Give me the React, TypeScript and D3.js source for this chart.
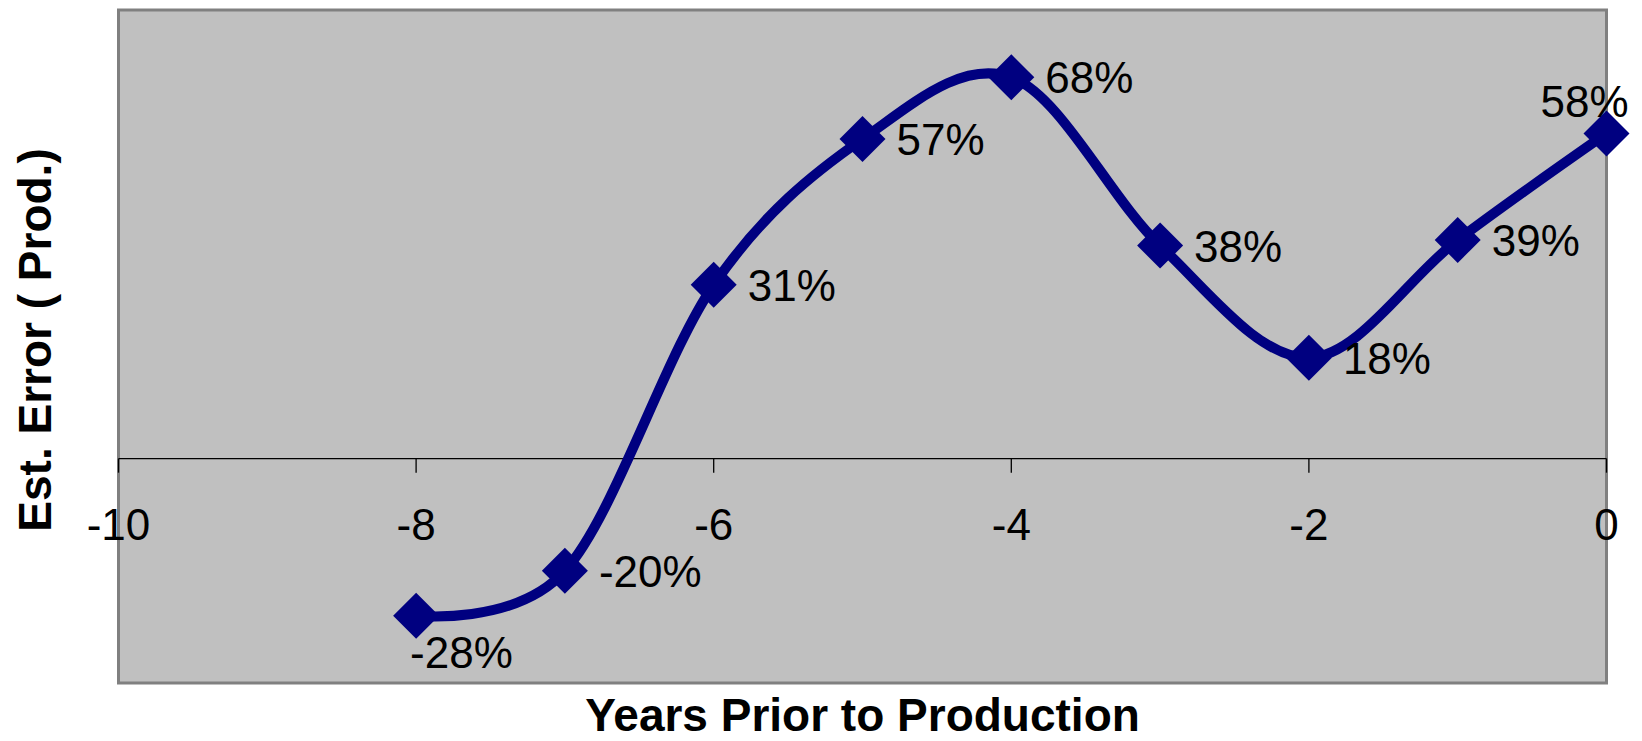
import React from "react";
import * as d3 from "d3";

// Years before production start and the estimate error at each year (%)
const years = [-8, -7, -6, -5, -4, -3, -2, -1, 0];
const errors = [-28, -20, 31, 57, 68, 38, 18, 39, 58];
// Where each value label sits relative to its marker
const labelPlacement = ["below", "right", "right", "right", "right", "right", "right", "right", "above"];
const xTicks = [-10, -8, -6, -4, -2, 0];
const xDomain = [-10, 0];
const yDomain = [-40, 80];

const W = 1642;
const H = 741;
const plot = { left: 118.5, right: 1606.5, top: 10, bottom: 683 };
const FONT = "'Liberation Sans', Arial, Helvetica, sans-serif";
const NAVY = "#000080";

export default function App() {
  const x = d3.scaleLinear().domain(xDomain).range([plot.left, plot.right]);
  const y = d3.scaleLinear().domain(yDomain).range([plot.bottom, plot.top]);

  const points = years.map((yr, i) => ({ yr, v: errors[i], place: labelPlacement[i] }));

  const line = d3
    .line<{ yr: number; v: number }>()
    .x((d) => x(d.yr))
    .y((d) => y(d.v))
    .curve(d3.curveCardinal.tension(0));

  const half = 23; // half-diagonal of the diamond markers
  const diamond = (cx: number, cy: number) =>
    `M${cx},${cy - half}L${cx + half},${cy}L${cx},${cy + half}L${cx - half},${cy}Z`;

  const y0 = y(0);

  return (
    <svg
      width={W}
      height={H}
      style={{ position: "absolute", left: 0, top: 0, background: "#fff" }}
      fontFamily={FONT}
    >
      {/* plot area */}
      <rect
        x={plot.left}
        y={plot.top}
        width={plot.right - plot.left}
        height={plot.bottom - plot.top}
        fill="#C0C0C0"
        stroke="#808080"
        strokeWidth={3}
      />

      {/* horizontal axis at zero */}
      <line x1={plot.left} x2={plot.right} y1={y0} y2={y0} stroke="#000" strokeWidth={1.3} />
      {xTicks.map((t) => (
        <g key={t}>
          <line x1={x(t)} x2={x(t)} y1={y0} y2={y0 + 14} stroke="#000" strokeWidth={1.3} />
          <text x={x(t)} y={y0 + 81} textAnchor="middle" fontSize={44} fill="#000">
            {t}
          </text>
        </g>
      ))}

      {/* series line */}
      <path d={line(points) || ""} fill="none" stroke={NAVY} strokeWidth={10} strokeLinejoin="round" />

      {/* markers */}
      {points.map((p) => (
        <path key={`m${p.yr}`} d={diamond(x(p.yr), y(p.v))} fill={NAVY} />
      ))}

      {/* value labels */}
      {points.map((p) => {
        const cx = x(p.yr);
        const cy = y(p.v);
        let tx = cx + 34;
        let ty = cy + 16;
        let anchor: "start" | "middle" = "start";
        if (p.place === "below") {
          tx = cx - 6;
          ty = cy + 52;
        } else if (p.place === "above") {
          tx = cx - 22;
          ty = cy - 16;
          anchor = "middle";
        }
        return (
          <text key={`l${p.yr}`} x={tx} y={ty} textAnchor={anchor} fontSize={44} fill="#000">
            {`${p.v}%`}
          </text>
        );
      })}

      {/* axis titles */}
      <text
        x={(plot.left + plot.right) / 2}
        y={731}
        textAnchor="middle"
        fontSize={46}
        fontWeight="bold"
        fill="#000"
      >
        Years Prior to Production
      </text>
      <text
        transform={`translate(51, 340) rotate(-90)`}
        textAnchor="middle"
        fontSize={46}
        fontWeight="bold"
        fill="#000"
      >
        Est. Error ( Prod.)
      </text>
    </svg>
  );
}
